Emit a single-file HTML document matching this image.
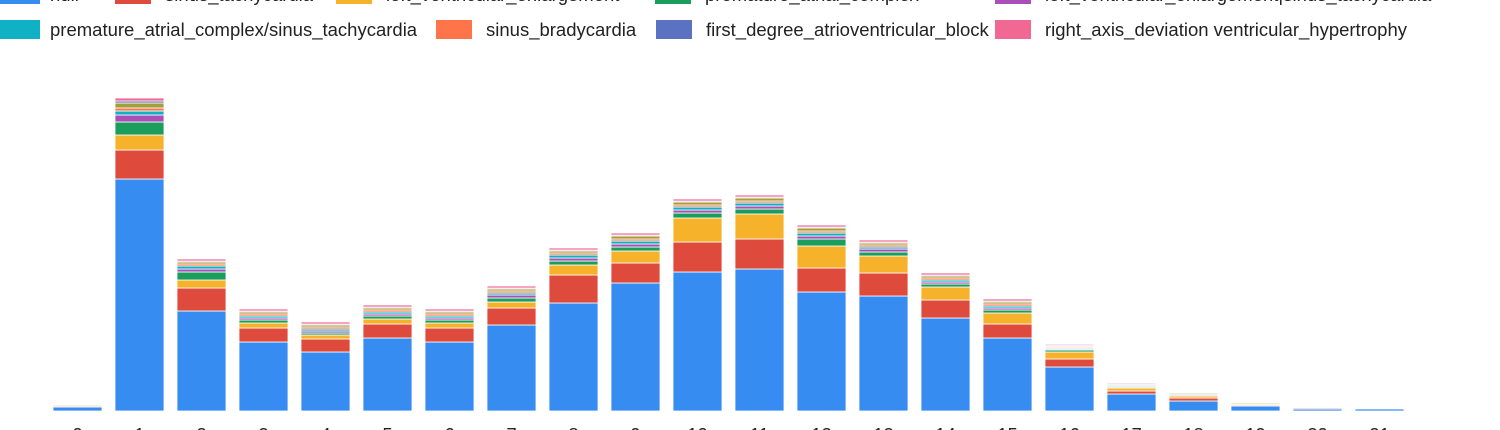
<!DOCTYPE html>
<html><head><meta charset="utf-8"><style>
html,body{margin:0;padding:0;background:#fff;overflow:hidden}
svg{display:block;font-family:"Liberation Sans",sans-serif}
</style></head><body>
<svg id="chart" width="1500" height="430">
<g id="legend"></g>
<g id="bars"></g>
<g id="xaxis"></g>
</svg>
<script>
const categories = ["0","1","2","3","4","5","6","7","8","9","10","11","12","13","14","15","16","17","18","19","20","21"];
const seriesNames = ["null","sinus_tachycardia","left_ventricular_enlargement","premature_atrial_complex","left_ventricular_enlargement|sinus_tachycardia","premature_atrial_complex/sinus_tachycardia","sinus_bradycardia","other","first_degree_atrioventricular_block","right_axis_deviation ventricular_hypertrophy"];
const seriesColors = ["#368cf0","#de4a3b","#f5b22a","#1b9e5c","#a84fb8","#0fb2c4","#ff7448","#a3a03a","#5b72c3","#f26894"];
const sNull = [4,232,100,69,59,73,69,86,108,128,139,142,119,115,93,73,44,17,10,5,2,2];
const sTachy = [1,29,23,14,13,14,14,17,28,20,30,30,24,23,18,14,8,3,3,1,1,0];
const sLVE = [1,15,8,5,4,5,5,6,10,12,24,25,22,17,13,11,7,3,2,1,0,0];
const sPAC = [0,13,8,3,2,3,3,4,4,4,5,5,7,4,3,3,2,1,1,0,0,0];
const sLVETachy = [0,7,3,2,2,2,2,3,3,3,3,3,3,3,2,2,1,1,1,0,0,0];
const sPACTachy = [0,4,3,2,2,2,2,2,3,3,3,3,3,2,2,2,1,1,0,0,0,0];
const sBrady = [0,3,2,2,2,2,2,2,2,2,2,2,2,2,2,2,1,0,0,0,0,0];
const sOther = [0,5,2,2,2,2,2,2,2,3,3,3,3,2,2,2,1,1,1,1,0,0];
const sAVB = [0,2,1,1,1,1,1,1,1,1,1,1,1,1,1,1,1,0,0,0,0,0];
const sRAD = [0,3,2,2,2,2,2,2,2,2,2,2,2,2,2,2,1,1,0,0,0,0];
const series = [sNull,sTachy,sLVE,sPAC,sLVETachy,sPACTachy,sBrady,sOther,sAVB,sRAD];

const NS="http://www.w3.org/2000/svg";
const baseY=411, pxPerUnit=1, x0=77.5, step=62, barW=49;
const xScale = i => x0 + i*step;
const yScale = v => baseY - v*pxPerUnit;
const barsG=document.getElementById('bars');
categories.forEach((c,i)=>{
  let acc=0;
  series.forEach((s,k)=>{
    const v=s[i]; if(v<=0) return;
    const r=document.createElementNS(NS,'rect');
    r.setAttribute('x',xScale(i)-barW/2);
    r.setAttribute('y',yScale(acc+v));
    r.setAttribute('width',barW);
    r.setAttribute('height',v*pxPerUnit);
    r.setAttribute('fill',seriesColors[k]);
    r.setAttribute('stroke','#fff');
    r.setAttribute('stroke-width','0.8');
    
    
    barsG.appendChild(r);
    acc+=v;
  });
  const t=document.createElementNS(NS,'text');
  t.setAttribute('x',xScale(i));t.setAttribute('y',441);
  t.setAttribute('text-anchor','middle');t.setAttribute('font-size','18.5');t.setAttribute('fill','#222');
  t.textContent=c;
  
  
  document.getElementById('xaxis').appendChild(t);
});
const legendItems=[
 [0,-15,0,"null"],[115,-15,1,"sinus_tachycardia"],[336,-15,2,"left_ventricular_enlargement"],[655,-15,3,"premature_atrial_complex"],[995,-15,4,"left_ventricular_enlargement|sinus_tachycardia"],
 [0,20,5,"premature_atrial_complex/sinus_tachycardia"],[436,20,6,"sinus_bradycardia"],[656,20,8,"first_degree_atrioventricular_block"],[995,20,9,"right_axis_deviation ventricular_hypertrophy"]];
const lg=document.getElementById('legend');
legendItems.forEach(it=>{
  const g=document.createElementNS(NS,'g');
  
  
  const r=document.createElementNS(NS,'rect');
  r.setAttribute('x',it[0]);r.setAttribute('y',it[1]);r.setAttribute('width',it[0]===0?40:36);r.setAttribute('height',19);
  r.setAttribute('fill',seriesColors[it[2]]);
  
  
  const t=document.createElementNS(NS,'text');
  t.setAttribute('x',it[0]+50);t.setAttribute('y',it[1]+16);
  t.setAttribute('font-size','18.5');t.setAttribute('fill','#222');
  t.textContent=it[3];
  
  
  g.appendChild(r);g.appendChild(t);lg.appendChild(g);
});
</script>
</body></html>
